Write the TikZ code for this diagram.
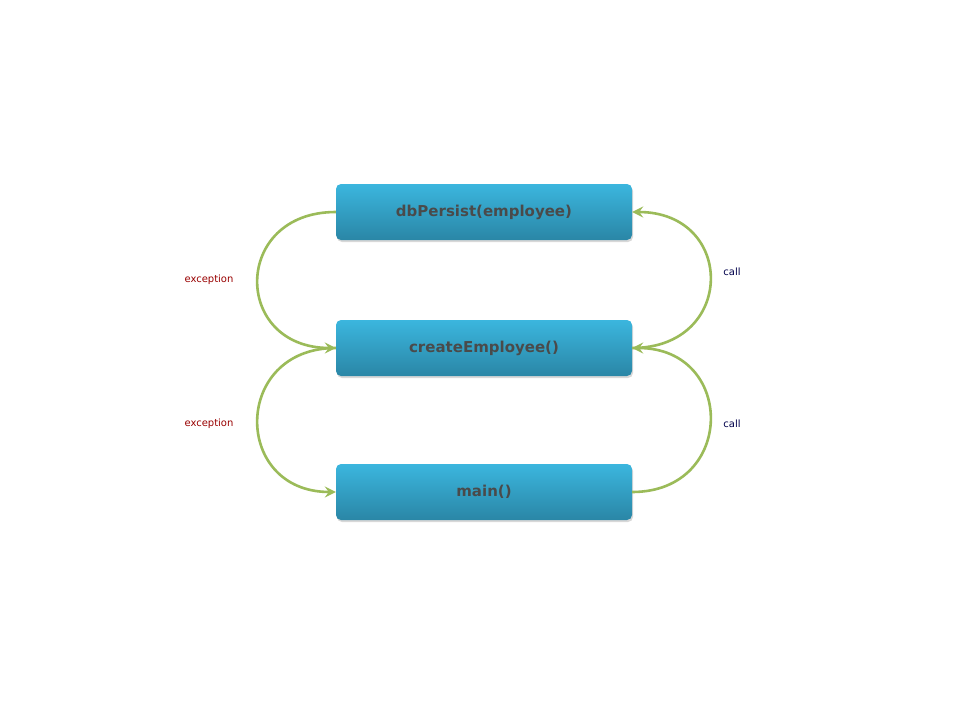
\documentclass[tikz,border=0pt]{standalone}
\usepackage{fontspec}
\setmainfont{DejaVu Sans}
\usetikzlibrary{shadows,arrows.meta}
\definecolor{boxtop}{HTML}{3BB6DE}
\definecolor{boxbot}{HTML}{2A86A6}
\definecolor{arr}{HTML}{9BBB59}
\definecolor{txt}{HTML}{4A4A4A}
\begin{document}
\begin{tikzpicture}[x=1pt,y=-1pt,
  fbox/.style={rectangle,rounded corners=5pt,minimum width=296pt,minimum height=56pt,
    top color=boxtop,bottom color=boxbot,draw=none,
    drop shadow={shadow xshift=1pt,shadow yshift=-2pt,opacity=0.3},
    font=\fontsize{15}{18}\selectfont\bfseries,text=txt},
  arrw/.style={draw=arr,line width=2.6pt,-{Stealth[length=11pt,width=11pt,inset=4pt]}},
  exlab/.style={font=\fontsize{10}{12}\selectfont,text=red!60!black},
  calllab/.style={font=\fontsize{10}{12}\selectfont,text=blue!30!black}]
\useasboundingbox[fill=white] (0,0) rectangle (960,720);
\node[fbox] (db) at (484,212) {dbPersist(employee)};
\node[fbox] (ce) at (484,348) {createEmployee()};
\node[fbox] (mn) at (484,492) {main()};
\draw[arrw] (db.west) .. controls (232,212) and (232,348) .. (ce.west);
\draw[arrw] (ce.west) .. controls (232,348) and (232,492) .. (mn.west);
\draw[arrw] (mn.east) .. controls (736,492) and (736,348) .. (ce.east);
\draw[arrw] (ce.east) .. controls (736,348) and (736,212) .. (db.east);
\node[exlab] (e1) at (209,280) {exception};
\node[exlab] (e2) at (209,424) {exception};
\node[calllab] (c1) at (732,272) {call};
\node[calllab] (c2) at (732,424) {call};
\end{tikzpicture}
\end{document}
